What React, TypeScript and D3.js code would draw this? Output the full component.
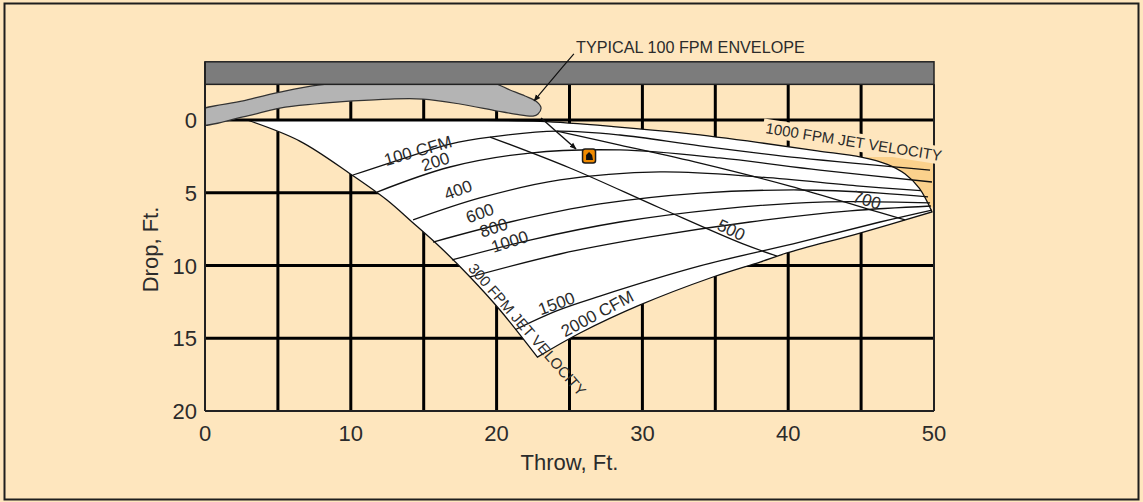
import React from 'react';
import * as d3 from 'd3';

type P = [number, number];

// axis ticks (ft)
const xTicks = [0, 10, 20, 30, 40, 50];
const yTicks = [0, 5, 10, 15, 20];
const gridXs = [5, 10, 15, 20, 25, 30, 35, 40, 45];
const gridYs = [5, 10, 15];

// boundary curves (Throw ft, Drop ft)
const jet1000: P[] = [[2.88, 0], [10, 0], [18, 0.02], [23, 0.1], [28, 0.45], [33, 0.92], [38, 1.55], [42, 2.12], [45, 2.55], [46.8, 3.05], [48, 3.7], [49, 4.7], [49.86, 6.3]];
const jet300: P[] = [[2.88, 0], [6.5, 1.45], [10.08, 3.78], [12.48, 5.5], [14.2, 7.01], [16.12, 8.73], [18.18, 10.79], [20.23, 13.06], [22.8, 16.3]];
const cfm2000: P[] = [[22.8, 16.3], [25.72, 14.64], [29.84, 12.71], [34.84, 10.79], [38.07, 9.76], [39.92, 9.14], [44.92, 7.77], [49.86, 6.32]];

// interior CFM lines
const cfm100: P[] = [[10.15, 3.78], [14.75, 2.27], [16.8, 1.65], [19.55, 1.17], [24.14, 0.76], [28.46, 1.03], [33.95, 1.78], [40.81, 2.61], [49.73, 3.44]];
const cfm200: P[] = [[11.8, 4.95], [16.8, 3.23], [22.29, 2.27], [28.46, 2.06], [35.32, 2.61], [42.18, 3.44], [49.86, 4.26]];
const cfm400: P[] = [[14.27, 6.87], [18.86, 5.36], [24.35, 4.12], [31.21, 3.57], [38.07, 3.92], [44.92, 4.54], [49.1, 4.85]];
const cfm600: P[] = [[15.64, 8.39], [20.92, 7.01], [27.09, 5.77], [33.95, 5.02], [40.81, 4.81], [46.3, 5.02], [49.59, 5.29]];
const cfm800: P[] = [[16.94, 9.62], [22.29, 8.25], [28.46, 7.01], [35.32, 6.12], [42.18, 5.64], [49.73, 5.7]];
const cfm1000: P[] = [[18.18, 10.79], [24.35, 9.21], [30.52, 8.04], [37.38, 7.01], [44.24, 6.25], [49.79, 5.91]];
const cfm1500: P[] = [[21.3, 14.4], [24.07, 13.13], [27.09, 12.1], [33.95, 10.03], [40.81, 8.39], [46.3, 7.01], [49.86, 6.19]];

// interior velocity lines
const fpm500: P[] = [[19.55, 1.17], [25.03, 3.3], [31.21, 6.05], [36.9, 8.52], [39.23, 9.35]];
const fpm700: P[] = [[24.14, 0.76], [28.46, 1.72], [33.95, 2.96], [40.12, 4.54], [45.47, 6.12], [48.01, 6.87]];

// 100 fpm envelope outline
const envelope: P[] = [[-0.5, -0.55], [2.61, -1.31], [5.14, -1.92], [7.89, -2.41], [13.4, -2.75], [19.55, -2.61], [20.92, -2.06], [21.95, -1.65], [22.77, -1.24], [23.05, -0.82], [22.84, -0.41], [22.5, -0.27], [21.26, -0.41], [20.03, -0.62], [17.49, -1.1], [14.95, -1.44], [12.69, -1.44], [10.15, -1.31], [7.54, -1.1], [5.14, -0.82], [2.61, -0.21], [-0.5, 0.3]];
const cornerFill: P[] = [[45.3, 2.55], [50, 2.55], [50, 6.1]];
const ceiling: P[] = [[0, -4], [50, -2.45]];

// annotations
const leader: P[] = [[25.3, -4.54], [24.0, -3.02], [22.57, -1.31]];
const pointer: P[] = [[23.05, -0.14], [25.45, 1.99]];
const markerPt: P = [26.34, 2.47];

const lineLabels: { text: string; at: P; rot: number; size: number }[] = [
  { text: '100 CFM', at: [14.6, 2.1], rot: -16, size: 17 },
  { text: '200', at: [15.8, 2.85], rot: -18, size: 17 },
  { text: '400', at: [17.35, 4.8], rot: -20, size: 17 },
  { text: '600', at: [18.85, 6.4], rot: -20, size: 17 },
  { text: '800', at: [19.8, 7.4], rot: -18, size: 17 },
  { text: '1000', at: [20.9, 8.35], rot: -18, size: 17 },
  { text: '1500', at: [24.1, 12.6], rot: -20, size: 17 },
  { text: '2000 CFM', at: [26.9, 13.3], rot: -28, size: 17 },
  { text: '500', at: [36.1, 7.55], rot: 25, size: 17 },
  { text: '700', at: [45.4, 5.5], rot: 17, size: 17 },
];
const jetLabels: { text: string; at: P; rot: number; size: number; bg: boolean }[] = [
  { text: '1000 FPM JET VELOCITY', at: [44.5, 1.5], rot: 9, size: 15, bg: true },
  { text: '300 FPM JET VELOCITY', at: [22.1, 14.4], rot: 49, size: 15, bg: false },
];
const envelopeLabel = { text: 'TYPICAL 100 FPM ENVELOPE', at: [25.45, -4.6] as P };

const BG = '#fee6be';
const FONT = '"Liberation Sans", Arial, Helvetica, sans-serif';
const INK = '#2b2b2b';

export default function App() {
  const x = d3.scaleLinear().domain([0, 50]).range([205, 934]);
  const y = d3.scaleLinear().domain([0, 20]).range([120, 411]);
  const curve = d3.line<P>().x(d => x(d[0])).y(d => y(d[1])).curve(d3.curveCatmullRom.alpha(0.5));
  const straight = d3.line<P>().x(d => x(d[0])).y(d => y(d[1]));
  const closed = d3.line<P>().x(d => x(d[0])).y(d => y(d[1])).curve(d3.curveCatmullRomClosed.alpha(0.5));

  const join = (...segs: P[][]) =>
    segs.map((s, i) => { const p = curve(s) || ''; return i === 0 ? p : 'L' + p.slice(1); }).join('') + 'Z';
  const whitePath = join(jet1000, [...cfm2000].reverse(), [...jet300].reverse());

  const cfms = [cfm100, cfm200, cfm400, cfm600, cfm800, cfm1000, cfm1500];
  const fpms = [fpm500, fpm700];

  const x0 = x(0), x1 = x(50), yTop = y(ceiling[0][1]), yBarB = y(ceiling[1][1]), yB = y(20);

  return (
    <svg width={1143} height={502} style={{ position: 'absolute', left: 0, top: 0 }} fontFamily={FONT}>
      <defs>
        <marker id="ah" viewBox="0 0 10 10" refX="9" refY="5" markerWidth="7" markerHeight="7" orient="auto" markerUnits="userSpaceOnUse">
          <path d="M0,1 L10,5 L0,9 Z" fill="#111" />
        </marker>
        <clipPath id="plotClip">
          <rect x={x0} y={yTop} width={x1 - x0} height={yB - yTop} />
        </clipPath>
      </defs>
      <rect x={0} y={0} width={1143} height={502} fill={BG} />
      <rect x={4.5} y={3.5} width={1134} height={496} fill="none" stroke="#1e1e1e" strokeWidth={2} />

      {/* grid */}
      {gridXs.map(v => (
        <line key={'gx' + v} x1={x(v)} x2={x(v)} y1={yBarB} y2={yB} stroke="#000" strokeWidth={3} />
      ))}
      {gridYs.map(v => (
        <line key={'gy' + v} x1={x0} x2={x1} y1={y(v)} y2={y(v)} stroke="#000" strokeWidth={3} />
      ))}

      {/* corner fill and white performance region */}
      <path d={straight(cornerFill) + 'Z'} fill="#fbd18c" />
      <path d={whitePath} fill="#ffffff" stroke="#111" strokeWidth={1.3} />
      <line x1={x0} x2={x1} y1={y(0)} y2={y(0)} stroke="#000" strokeWidth={3} />

      {cfms.map((c, i) => (
        <path key={'c' + i} d={curve(c) || ''} fill="none" stroke="#111" strokeWidth={1.3} />
      ))}
      {fpms.map((c, i) => (
        <path key={'f' + i} d={curve(c) || ''} fill="none" stroke="#111" strokeWidth={1.3} />
      ))}

      {/* envelope */}
      <path d={closed(envelope) + 'Z'} fill="#b4b4b4" stroke="#333" strokeWidth={1.2} clipPath="url(#plotClip)" />

      {/* ceiling bar */}
      <rect x={x0} y={yTop} width={x1 - x0} height={yBarB - yTop} fill="#7c7c7c" stroke="#222" strokeWidth={1.5} />

      {/* plot frame */}
      <line x1={x0} x2={x0} y1={yTop} y2={yB} stroke="#222" strokeWidth={2} />
      <line x1={x1} x2={x1} y1={yBarB} y2={yB} stroke="#222" strokeWidth={2} />
      <line x1={x0} x2={x1} y1={yB} y2={yB} stroke="#222" strokeWidth={2} />

      {/* ticks */}
      {xTicks.map(v => (
        <text key={'xt' + v} x={x(v)} y={yB + 30} fontSize={22} textAnchor="middle" fill={INK}>{v}</text>
      ))}
      {yTicks.map(v => (
        <text key={'yt' + v} x={x0 - 8} y={y(v) + 8} fontSize={22} textAnchor="end" fill={INK}>{v}</text>
      ))}
      <text x={(x0 + x1) / 2} y={yB + 59} fontSize={22} textAnchor="middle" fill={INK}>Throw, Ft.</text>
      <text transform={`translate(158,${(y(0) + yB) / 2 - 16}) rotate(-90)`} fontSize={22} textAnchor="middle" fill={INK}>Drop, Ft.</text>

      {/* line labels */}
      {lineLabels.map(l => (
        <text key={l.text} transform={`translate(${x(l.at[0])},${y(l.at[1])}) rotate(${l.rot})`} fontSize={l.size} textAnchor="middle" dy="0.35em" fill={INK}>{l.text}</text>
      ))}
      {jetLabels.map(l => (
        <g key={l.text} transform={`translate(${x(l.at[0])},${y(l.at[1])}) rotate(${l.rot})`}>
          {l.bg && <rect x={-92} y={-9} width={184} height={18} fill={BG} />}
          <text fontSize={l.size} textAnchor="middle" dy="0.35em" fill={INK}>{l.text}</text>
        </g>
      ))}

      {/* envelope annotation */}
      <text x={x(envelopeLabel.at[0])} y={y(envelopeLabel.at[1])} fontSize={16.2} fill={INK}>{envelopeLabel.text}</text>
      <path d={curve(leader) || ''} fill="none" stroke="#111" strokeWidth={1.2} markerEnd="url(#ah)" />
      <path d={straight(pointer) || ''} fill="none" stroke="#111" strokeWidth={1.4} markerEnd="url(#ah)" />
      <g transform={`translate(${x(markerPt[0])},${y(markerPt[1])})`}>
        <rect x={-6.5} y={-7} width={13} height={14} rx={2.5} fill="#f08a00" stroke="#1a1a1a" strokeWidth={1.5} />
        <path d="M-3,4 L-3,-1 L0,-4 L3,-1 L4,4 Z" fill="#111" />
      </g>
    </svg>
  );
}
